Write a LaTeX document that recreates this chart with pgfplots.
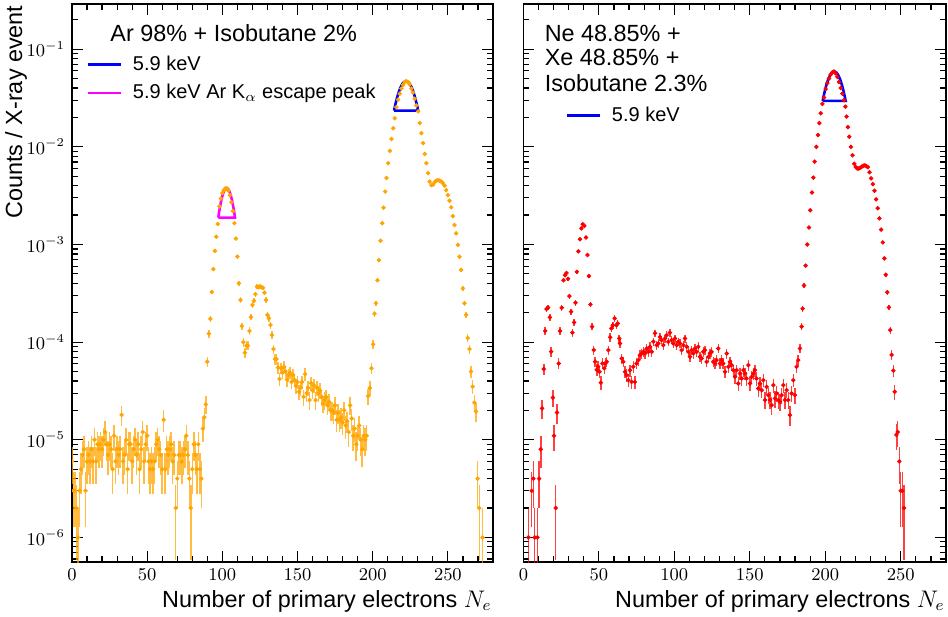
\documentclass[border=0pt]{standalone}
\usepackage{fontspec}
\setmainfont{Liberation Sans}
\usepackage{pgfplots}
\usepackage{pgfplotstable}
\pgfplotsset{compat=1.18}
\definecolor{mplorange}{RGB}{255,165,0}
\definecolor{mplred}{RGB}{255,0,0}
\definecolor{mplblue}{RGB}{0,0,255}
\definecolor{mplmag}{RGB}{255,0,255}

\pgfplotstableread{
x y e
-0.3 0.16 0
0 6e-6 2.45e-6
1 3e-6 1.73e-6
2 3e-6 1.73e-6
3 2e-6 1.41e-6
4 1e-6 0.99e-6
5 3e-6 1.73e-6
6 5e-6 2.24e-6
7 7e-6 2.65e-6
8 8e-6 2.83e-6
9 3e-6 1.73e-6
10 6e-6 2.45e-6
11 7e-6 2.65e-6
12 6e-6 2.45e-6
13 8e-6 2.83e-6
14 6e-6 2.45e-6
15 10e-6 3.16e-6
16 6e-6 2.45e-6
17 9e-6 3e-6
18 8e-6 2.83e-6
19 9e-6 3e-6
20 8e-6 2.83e-6
21 10e-6 3.16e-6
22 12e-6 3.46e-6
23 9e-6 3e-6
24 7e-6 2.65e-6
25 9e-6 3e-6
26 8e-6 2.83e-6
27 5e-6 2.24e-6
28 11e-6 3.32e-6
29 6e-6 2.45e-6
30 8e-6 2.83e-6
31 7e-6 2.65e-6
32 8e-6 2.83e-6
33 18e-6 4.24e-6
34 6e-6 2.45e-6
35 7e-6 2.65e-6
36 10e-6 3.16e-6
37 5e-6 2.24e-6
38 9e-6 3e-6
39 9e-6 3e-6
40 6e-6 2.45e-6
41 8e-6 2.83e-6
42 10e-6 3.16e-6
43 7e-6 2.65e-6
44 9e-6 3e-6
45 5e-6 2.24e-6
46 8e-6 2.83e-6
47 12e-6 3.46e-6
48 6e-6 2.45e-6
49 9e-6 3e-6
50 11e-6 3.32e-6
51 6e-6 2.45e-6
52 5e-6 2.24e-6
53 6e-6 2.45e-6
54 5e-6 2.24e-6
55 6e-6 2.45e-6
56 9e-6 3e-6
57 10e-6 3.16e-6
58 8e-6 2.83e-6
59 7e-6 2.65e-6
60 5e-6 2.24e-6
61 16e-6 4e-6
62 5e-6 2.24e-6
63 8e-6 2.83e-6
64 7e-6 2.65e-6
65 8e-6 2.83e-6
66 9e-6 3e-6
67 6e-6 2.45e-6
68 7e-6 2.65e-6
69 2e-6 1.41e-6
70 4e-6 2e-6
71 7e-6 2.65e-6
72 7e-6 2.65e-6
73 6e-6 2.45e-6
74 7e-6 2.65e-6
75 8e-6 2.83e-6
76 11e-6 3.32e-6
77 7e-6 2.65e-6
78 4e-6 2e-6
79 2e-6 1.41e-6
80 5e-6 2.24e-6
81 9e-6 3e-6
82 7e-6 2.65e-6
83 5e-6 2.24e-6
84 9e-6 3e-6
85 5e-6 2.24e-6
86 4e-6 2e-6
87 13e-6 3.61e-6
88 17e-6 4.12e-6
89 23e-6 4.8e-6
90 63e-6 7.9e-6
91 1.22e-4 1.1e-5
92 1.73e-4 1.32e-5
93 3.26e-4 1.8e-5
94 5.6e-4 2.37e-5
95 8.6e-4 2.93e-5
96 1.2e-3 0
97 1.62e-3 0
98 2.45e-3 0
99 2.95e-3 0
100 3.35e-3 0
101 3.6e-3 0
102 3.75e-3 0
103 3.75e-3 0
104 3.55e-3 0
105 3.2e-3 0
106 2.7e-3 0
107 2.2e-3 0
108 1.65e-3 0
109 1.15e-3 0
110 7.5e-4 2.74e-5
111 4.0e-4 2e-5
112 2.7e-4 1.64e-5
113 1.46e-4 1.21e-5
114 1.0e-4 1e-5
115 7.8e-5 8.8e-6
116 9.2e-5 9.6e-6
117 9.2e-5 9.6e-6
118 1.3e-4 1.14e-5
119 1.8e-4 1.34e-5
120 2.4e-4 1.55e-5
121 2.65e-4 1.63e-5
122 3.1e-4 1.76e-5
123 3.7e-4 1.92e-5
124 3.65e-4 1.91e-5
125 3.7e-4 1.92e-5
126 3.65e-4 1.91e-5
127 3.6e-4 1.9e-5
128 3.2e-4 1.79e-5
129 2.7e-4 1.64e-5
130 1.9e-4 1.38e-5
131 1.75e-4 1.32e-5
132 1.5e-4 1.22e-5
133 1.18e-4 1.09e-5
134 8.5e-5 9.2e-6
135 6.7e-5 8.2e-6
136 6.7e-5 8.2e-6
137 5.5e-5 7.4e-6
138 4.2e-5 6.5e-6
139 5.4e-5 7.3e-6
140 4.85e-5 7e-6
141 5.6e-5 7.5e-6
142 5.0e-5 7.1e-6
143 4.15e-5 6.4e-6
144 4.6e-5 6.8e-6
145 4.85e-5 7e-6
146 3.9e-5 6.2e-6
147 4.6e-5 6.8e-6
148 4.1e-5 6.4e-6
149 3.55e-5 6e-6
150 3.9e-5 6.2e-6
151 3.1e-5 5.6e-6
152 3.4e-5 5.8e-6
153 3.9e-5 6.2e-6
154 2.75e-5 5.2e-6
155 4.7e-5 6.9e-6
156 3.0e-5 5.5e-6
157 3.4e-5 5.8e-6
158 2.55e-5 5.1e-6
159 3.8e-5 6.2e-6
160 3.2e-5 5.7e-6
161 3.6e-5 6e-6
162 2.55e-5 5.1e-6
163 3.4e-5 5.8e-6
164 3.0e-5 5.5e-6
165 3.2e-5 5.7e-6
166 2.75e-5 5.2e-6
167 2.35e-5 4.8e-6
168 2.55e-5 5.1e-6
169 2.75e-5 5.2e-6
170 2.25e-5 4.7e-6
171 2.45e-5 4.9e-6
172 2.0e-5 4.5e-6
173 2.0e-5 4.5e-6
174 1.9e-5 4.4e-6
175 2.25e-5 4.7e-6
176 1.6e-5 4e-6
177 1.9e-5 4.4e-6
178 1.6e-5 4e-6
179 1.7e-5 4.1e-6
180 1.5e-5 3.9e-6
181 2.0e-5 4.5e-6
182 1.4e-5 3.7e-6
183 1.55e-5 3.9e-6
184 1.2e-5 3.5e-6
185 2.25e-5 4.7e-6
186 1.65e-5 4.1e-6
187 1.1e-5 3.3e-6
188 1.3e-5 3.6e-6
189 9e-6 3e-6
190 1.1e-5 3.3e-6
191 1.4e-5 3.7e-6
192 1.0e-5 3.2e-6
193 8e-6 2.8e-6
194 1.1e-5 3.3e-6
195 1.0e-5 3.2e-6
196 1.1e-5 3.3e-6
197 2.8e-5 5.3e-6
198.1 3.4e-5 5.8e-6
199.2 5.4e-5 7.3e-6
200.3 9.5e-5 9.7e-6
201.2 1.95e-4 1.4e-5
202.1 2.5e-4 1.58e-5
203.2 4.3e-4 2.07e-5
204.1 6.9e-4 2.6e-5
205.2 1.09e-3 0
206.3 1.65e-3 0
207.2 2.38e-3 0
208.3 3.48e-3 0
209.2 4.8e-3 0
210.3 6.8e-3 0
211.4 9.1e-3 0
212.5 1.2e-2 0
213.6 1.55e-2 0
214.7 1.96e-2 0
215.8 2.55e-2 0
216.9 3.05e-2 0
218.0 3.5e-2 0
219.1 3.95e-2 0
220.2 4.3e-2 0
221.3 4.6e-2 0
222.4 4.7e-2 0
223.5 4.6e-2 0
224.6 4.35e-2 0
225.7 3.95e-2 0
226.8 3.6e-2 0
227.9 3.1e-2 0
229.0 2.65e-2 0
230.2 2.3e-2 0
231.3 1.75e-2 0
232.4 1.38e-2 0
233.5 1.09e-2 0
234.6 8.45e-3 0
235.7 6.8e-3 0
236.8 5.37e-3 0
237.9 4.4e-3 0
239.0 4.05e-3 0
240.1 4.1e-3 0
241.2 4.35e-3 0
242.3 4.5e-3 0
243.4 4.55e-3 0
244.5 4.5e-3 0
245.6 4.4e-3 0
246.7 4.25e-3 0
247.8 4.0e-3 0
248.9 3.6e-3 0
250.0 3.2e-3 0
251.1 2.8e-3 0
252.2 2.4e-3 0
253.3 1.95e-3 0
254.4 1.58e-3 0
255.5 1.3e-3 0
256.6 9.9e-4 3.1e-5
257.7 7.5e-4 2.74e-5
258.8 5.5e-4 2.35e-5
259.9 3.55e-4 1.88e-5
261.0 2.5e-4 1.58e-5
262.1 1.9e-4 1.38e-5
263.2 1.1e-4 1.05e-5
264.3 8.5e-5 9.2e-6
265.4 5.0e-5 7.1e-6
266.5 3.5e-5 5.9e-6
267.6 2.4e-5 4.9e-6
268.7 1.95e-5 4.4e-6
269.8 4e-6 2e-6
270.9 2e-6 1.41e-6
273 1e-6 0.99e-6
}\leftdata

\pgfplotstableread{
x y e
-0.3 4e-3 0
3.3 1e-6 0.99e-6
5.5 3e-6 1.73e-6
6.6 4e-6 2e-6
7.5 1e-6 0.99e-6
9.3 1e-6 0.99e-6
10.4 4e-6 2e-6
11.5 8e-6 2.83e-6
12.4 2.1e-5 4.6e-6
13.5 5.3e-5 7.3e-6
14.4 1.3e-4 1.14e-5
15.3 2.18e-4 1.48e-5
16.4 2.26e-4 1.5e-5
17.5 1.79e-4 1.34e-5
18.4 8e-5 8.9e-6
19.5 2.7e-5 5.2e-6
20.3 1.1e-5 3.3e-6
21.4 2e-6 1.41e-6
22.3 1.9e-5 4.4e-6
23.4 6.05e-5 7.8e-6
24.3 1.3e-4 1.14e-5
25.4 2.25e-4 1.5e-5
26.5 4.3e-4 2.07e-5
27.6 4.85e-4 2.2e-5
28.5 5.1e-4 2.26e-5
29.6 4.45e-4 2.1e-5
30.5 2.96e-4 1.72e-5
31.6 2.05e-4 1.43e-5
32.5 1.25e-4 1.12e-5
33.6 1.59e-4 1.26e-5
34.5 2.53e-4 1.59e-5
35.4 5.25e-4 2.29e-5
36.4 8.5e-4 2.9e-5
37.5 1.13e-3 0
38.4 1.46e-3 0
39.3 1.61e-3 0
40.4 1.55e-3 0
41.5 1.18e-3 0
42.4 7.8e-4 2.8e-5
43.4 4.74e-4 2.18e-5
44.4 2.43e-4 1.56e-5
45.5 1.44e-4 1.2e-5
46.6 8.3e-5 9.1e-6
47.5 6.3e-5 7.9e-6
48.6 5.2e-5 7.2e-6
49.5 5.6e-5 7.5e-6
50.4 4.97e-5 7.05e-6
51.3 3.84e-5 6.2e-6
52.4 6.05e-5 7.8e-6
53.6 5.4e-5 7.3e-6
54.3 6.05e-5 7.8e-6
55.2 6.3e-5 7.9e-6
56.3 8.3e-5 9.1e-6
57.5 1.12e-4 1.06e-5
58.3 1.38e-4 1.17e-5
59.2 1.49e-4 1.22e-5
60.5 1.75e-4 1.32e-5
61.6 1.49e-4 1.22e-5
62.5 1.55e-4 1.24e-5
63.5 1.09e-4 1.04e-5
64.0 9.69e-5 9.8e-6
65.1 6.8e-5 8.2e-6
66.2 6.29e-5 7.9e-6
67.3 4.97e-5 7.05e-6
68.4 4.59e-5 6.8e-6
69.5 4.08e-5 6.4e-6
70.6 5.16e-5 7.2e-6
71.7 3.92e-5 6.3e-6
72.8 5.59e-5 7.5e-6
73.9 3.92e-5 6.3e-6
75.0 6.04e-5 7.8e-6
76.1 6.54e-5 8.1e-6
77.2 7.36e-5 8.6e-6
78.4 7.65e-5 8.7e-6
79.5 7.96e-5 8.9e-6
80.6 7.65e-5 8.7e-6
81.7 8.61e-5 9.3e-6
82.8 7.96e-5 8.9e-6
83.9 8.96e-5 9.5e-6
85.0 7.96e-5 8.9e-6
86.1 1.01e-4 1e-5
87.2 1.23e-4 1.11e-5
88.3 9.32e-5 9.7e-6
89.4 9.69e-5 9.8e-6
90.5 1.13e-4 1.06e-5
91.6 1.05e-4 1.02e-5
92.7 9.32e-5 9.7e-6
93.8 1.09e-4 1.04e-5
94.9 1.18e-4 1.09e-5
96.0 1.01e-4 1e-5
97.1 1.25e-4 1.12e-5
98.2 1.05e-4 1.02e-5
99.3 9.69e-5 9.8e-6
100.4 1.09e-4 1.04e-5
101.5 9.32e-5 9.7e-6
102.6 1.01e-4 1e-5
103.7 9.69e-5 9.8e-6
104.8 8.28e-5 9.1e-6
106.0 9.32e-5 9.7e-6
107.1 1.09e-4 1.04e-5
108.2 8.96e-5 9.5e-6
109.3 7.96e-5 8.9e-6
110.4 7.07e-5 8.4e-6
111.5 8.28e-5 9.1e-6
112.6 7.65e-5 8.7e-6
113.7 8.61e-5 9.3e-6
114.8 7.96e-5 8.9e-6
115.9 8.96e-5 9.5e-6
117.0 7.07e-5 8.4e-6
118.1 6.8e-5 8.2e-6
119.2 7.96e-5 8.9e-6
120.3 8.28e-5 9.1e-6
121.4 6.29e-5 7.9e-6
122.5 7.07e-5 8.4e-6
123.6 7.65e-5 8.7e-6
124.7 7.96e-5 8.9e-6
125.8 6.29e-5 7.9e-6
126.9 6.04e-5 7.8e-6
128.0 6.54e-5 8.1e-6
129.1 8.61e-5 9.3e-6
130.2 6.04e-5 7.8e-6
131.3 6.54e-5 8.1e-6
132.4 6.04e-5 7.8e-6
133.6 4.97e-5 7.05e-6
134.7 7.65e-5 8.7e-6
135.8 5.59e-5 7.5e-6
136.9 6.29e-5 7.9e-6
138.0 5.81e-5 7.6e-6
139.1 5.16e-5 7.2e-6
140.2 4.41e-5 6.6e-6
141.3 5.16e-5 7.2e-6
142.4 3.77e-5 6.1e-6
143.5 4.77e-5 6.9e-6
144.6 4.24e-5 6.5e-6
145.7 5.16e-5 7.2e-6
146.8 4.77e-5 6.9e-6
147.9 4.24e-5 6.5e-6
149.0 5.81e-5 7.6e-6
150.1 3.77e-5 6.1e-6
151.2 4.41e-5 6.6e-6
152.3 4.77e-5 6.9e-6
153.4 5.16e-5 7.2e-6
154.5 4.24e-5 6.5e-6
155.6 3.35e-5 5.8e-6
156.8 3.77e-5 6.1e-6
157.9 3.22e-5 5.7e-6
159.0 4.08e-5 6.4e-6
160.1 2.55e-5 5e-6
161.2 3.48e-5 5.9e-6
162.3 2.86e-5 5.3e-6
163.4 2.55e-5 5e-6
164.5 2.26e-5 4.8e-6
165.6 3.63e-5 6e-6
166.7 2.65e-5 5.1e-6
167.8 2.98e-5 5.5e-6
168.9 2.55e-5 5e-6
170.0 2.45e-5 4.9e-6
171.1 2.86e-5 5.3e-6
172.2 3.63e-5 6e-6
173.3 2.55e-5 5e-6
174.4 3.22e-5 5.7e-6
175.5 2.55e-5 5e-6
176.6 1.79e-5 4.2e-6
177.7 2.98e-5 5.5e-6
178.8 4.08e-5 6.4e-6
179.9 2.86e-5 5.3e-6
181.0 5.59e-5 7.5e-6
182.1 6.54e-5 8.1e-6
183.2 8.61e-5 9.3e-6
184.3 1.44e-4 1.2e-5
185.0 2.2e-4 1.48e-5
185.9 3.8e-4 1.95e-5
187.0 6.07e-4 2.46e-5
188.1 1.0e-3 0
189.2 1.49e-3 0
190.1 2.24e-3 0
191.2 3.4e-3 0
192.1 4.83e-3 0
193.0 7.05e-3 0
194.1 9.98e-3 0
195.2 1.32e-2 0
196.1 1.75e-2 0
197.0 2.21e-2 0
198.1 2.75e-2 0
199.2 3.2e-2 0
200.3 3.9e-2 0
201.4 4.5e-2 0
202.5 5.0e-2 0
203.6 5.5e-2 0
204.7 5.8e-2 0
205.8 5.9e-2 0
206.9 5.65e-2 0
208.0 5.2e-2 0
209.1 4.6e-2 0
210.2 4.0e-2 0
211.3 3.5e-2 0
212.4 3.0e-2 0
213.3 2.58e-2 0
214.1 2.04e-2 0
215.0 1.59e-2 0
215.9 1.27e-2 0
217.0 1.0e-2 0
218.1 8.2e-3 0
219.2 6.7e-3 0
220.2 6.2e-3 0
221.2 6.0e-3 0
222.2 6.0e-3 0
223.2 6.1e-3 0
224.2 6.25e-3 0
225.2 6.4e-3 0
226.2 6.45e-3 0
227.2 6.35e-3 0
228.2 6.2e-3 0
229.3 5.5e-3 0
230.4 4.75e-3 0
231.5 4.15e-3 0
232.6 3.55e-3 0
233.7 2.9e-3 0
234.8 2.35e-3 0
235.9 1.85e-3 0
237.0 1.42e-3 0
238.1 1.05e-3 0
239.2 7.2e-4 2.7e-5
240.1 4.9e-4 2.2e-5
241.1 3.24e-4 1.8e-5
242.2 2.27e-4 1.5e-5
243.1 1.33e-4 1.15e-5
244.0 7.4e-5 8.6e-6
245.1 5.1e-5 7.1e-6
246.0 3.1e-5 5.6e-6
247.1 1.12e-5 3.3e-6
248.0 1.2e-5 3.5e-6
249.1 6e-6 2.45e-6
250.0 3e-6 1.73e-6
251.1 3e-6 1.73e-6
252.2 2e-6 1.41e-6
}\rightdata

\begin{document}
\begin{tikzpicture}
\useasboundingbox (0,0) rectangle (474pt,308pt);

% ---------- left panel ----------
\begin{axis}[at={(36pt,27pt)}, anchor=south west,
  scale only axis, width=210.5pt, height=279pt,
  ymode=log, xmin=0, xmax=280, ymin=5.6e-7, ymax=0.29,
  xtick={0,50,...,300}, minor x tick num=4,
  ytick={1e-7,1e-6,1e-5,1e-4,1e-3,1e-2,1e-1,1},
  tick align=inside, tick pos=both,
  major tick length=5.5pt, minor tick length=3pt,
  every tick/.style={black, line width=0.6pt},
  axis line style={line width=0.8pt},
  tick label style={font=\fontsize{9}{10}\selectfont},
  clip marker paths=true,
  xlabel={Number of primary electrons $N_e$},
  xlabel style={at={(axis description cs:0.9976,-0.081)}, anchor=base east, inner sep=0pt, font=\fontsize{11.7}{14}\selectfont},
  ylabel={Counts / X-ray event},
  ylabel style={at={(axis description cs:-0.133,0.998)}, anchor=east, inner sep=0pt, font=\fontsize{11.7}{14}\selectfont},
  legend cell align=left,
  legend image code/.code={\draw[#1] (0pt,0pt) -- (16.5pt,0pt);},
  legend style={at={(axis description cs:0.019,0.922)}, anchor=north west,
    draw=none, fill=none, inner xsep=3pt, inner ysep=2pt,
    column sep=3.5pt, row sep=1.5pt, font=\fontsize{10}{12}\selectfont},
]
\addplot[mplblue, line width=1.3pt] coordinates {
 (214.2,0.0235) (215.0,0.02681) (215.8,0.03016) (216.6,0.03346) (217.4,0.03662)
 (218.2,0.03952) (219.0,0.04207) (219.8,0.04416) (220.6,0.04572) (221.4,0.04668)
 (222.2,0.047) (223.0,0.04668) (223.8,0.04572) (224.6,0.04416) (225.4,0.04207)
 (226.2,0.03952) (227.0,0.03662) (227.8,0.03346) (228.6,0.03016) (229.4,0.02681)
 (230.2,0.0235) (214.2,0.0235)};
\addlegendentry{5.9 keV}
\addplot[mplmag, line width=1.3pt] coordinates {
 (97.30,1.885e-3) (97.86,2.151e-3) (98.41,2.419e-3) (98.97,2.684e-3) (99.52,2.938e-3)
 (100.08,3.170e-3) (100.63,3.374e-3) (101.19,3.542e-3) (101.74,3.667e-3) (102.30,3.744e-3)
 (102.85,3.77e-3) (103.41,3.744e-3) (103.96,3.667e-3) (104.52,3.542e-3) (105.07,3.374e-3)
 (105.63,3.170e-3) (106.18,2.938e-3) (106.74,2.684e-3) (107.29,2.419e-3) (107.85,2.151e-3)
 (108.40,1.885e-3) (97.30,1.885e-3)};
\addlegendentry{5.9 keV Ar K$_\alpha$ escape peak}
\addplot[only marks, mark=*, mark size=0.9pt, color=mplorange, forget plot,
  error bars/.cd, y dir=both, y explicit, error mark=none,
  error bar style={line width=0.75pt, mplorange, opacity=0.75}]
  table[x=x, y=y, y error=e] {\leftdata};
\node[anchor=base west, inner sep=0pt, font=\fontsize{11.7}{14}\selectfont]
  at (axis description cs:0.0903,0.9337) {Ar 98\% + Isobutane 2\%};
\end{axis}

% ---------- right panel ----------
\begin{axis}[at={(261.7pt,27pt)}, anchor=south west,
  scale only axis, width=211.3pt, height=279pt,
  ymode=log, xmin=0, xmax=280, ymin=5.6e-7, ymax=0.29,
  xtick={0,50,...,300}, minor x tick num=4,
  ytick={1e-7,1e-6,1e-5,1e-4,1e-3,1e-2,1e-1,1},
  yticklabels={},
  tick align=inside, tick pos=both,
  major tick length=5.5pt, minor tick length=3pt,
  every tick/.style={black, line width=0.6pt},
  axis line style={line width=0.8pt},
  tick label style={font=\fontsize{9}{10}\selectfont},
  clip marker paths=true,
  xlabel={Number of primary electrons $N_e$},
  xlabel style={at={(axis description cs:0.9976,-0.081)}, anchor=base east, inner sep=0pt, font=\fontsize{11.7}{14}\selectfont},
  legend cell align=left,
  legend image code/.code={\draw[#1] (0pt,0pt) -- (16.5pt,0pt);},
  legend style={at={(axis description cs:0.0842,0.8312)}, anchor=north west,
    draw=none, fill=none, inner xsep=3pt, inner ysep=2pt,
    column sep=3.5pt, row sep=1.5pt, font=\fontsize{10}{12}\selectfont},
]
\addplot[mplblue, line width=1.3pt] coordinates {
 (198.30,0.0295) (199.06,0.03366) (199.82,0.03786) (200.58,0.04201) (201.34,0.04597)
 (202.10,0.04961) (202.86,0.05281) (203.62,0.05543) (204.38,0.05739) (205.14,0.05859)
 (205.90,0.059) (206.66,0.05859) (207.42,0.05739) (208.18,0.05543) (208.94,0.05281)
 (209.70,0.04961) (210.46,0.04597) (211.22,0.04201) (211.98,0.03786) (212.74,0.03366)
 (213.50,0.0295) (198.30,0.0295)};
\addlegendentry{5.9 keV}
\addplot[only marks, mark=*, mark size=0.9pt, color=mplred, forget plot,
  error bars/.cd, y dir=both, y explicit, error mark=none,
  error bar style={line width=0.75pt, mplred, opacity=0.75}]
  table[x=x, y=y, y error=e] {\rightdata};
\node[anchor=base west, inner sep=0pt, font=\fontsize{11.7}{14}\selectfont]
  at (axis description cs:0.0497,0.9337) {Ne 48.85\% +};
\node[anchor=base west, inner sep=0pt, font=\fontsize{11.7}{14}\selectfont]
  at (axis description cs:0.0497,0.8896) {Xe 48.85\% +};
\node[anchor=base west, inner sep=0pt, font=\fontsize{11.7}{14}\selectfont]
  at (axis description cs:0.0497,0.8430) {Isobutane 2.3\%};
\end{axis}
\end{tikzpicture}
\end{document}
